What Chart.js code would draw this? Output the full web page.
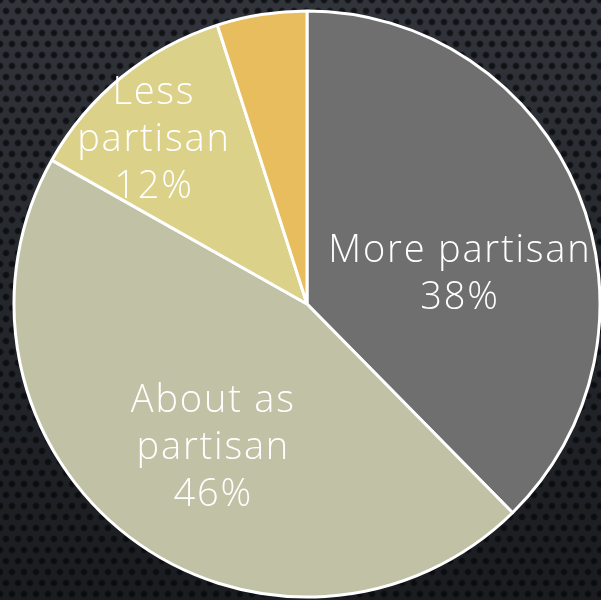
<!DOCTYPE html>
<html>
<head>
<meta charset="utf-8">
<script src="https://cdn.jsdelivr.net/npm/chart.js@4.4.0/dist/chart.umd.min.js"></script>
<style>
  html, body { margin: 0; padding: 0; }
  body {
    width: 601px; height: 600px; overflow: hidden;
    background-color: #24272c;
    background-image:
      radial-gradient(circle at 50% 50%, rgba(6,7,10,0.8) 0, rgba(6,7,10,0.7) 2.4px, rgba(0,0,0,0) 4px),
      radial-gradient(circle at 50% 50%, rgba(6,7,10,0.8) 0, rgba(6,7,10,0.7) 2.4px, rgba(0,0,0,0) 4px),
      linear-gradient(to bottom, #31343a 0%, #25282d 45%, #1a1c20 100%);
    background-size: 12px 22px, 12px 22px, 100% 100%;
    background-position: 0 0, 6px 11px, 0 0;
  }
  #wrap { position: absolute; left: 0; top: 0; width: 601px; height: 600px; }
</style>
</head>
<body>
<div id="wrap"><canvas id="pie" width="601" height="600"></canvas></div>
<script>
// values
const categories = ['More partisan', 'About as partisan', 'Less partisan', ''];
const shares = [38, 46, 12, 5];
const labelLines = [
  ['More partisan', '38%'],
  ['About as', 'partisan', '46%'],
  ['Less', 'partisan', '12%'],
  []
];

const sliceColors = ['#6f6f6f', '#c1c1a6', '#dbd189', '#e7bd5d'];

// where each label sits: shift from the slice's middle angle (deg) and fraction of radius
const labelPlace = [
  { turn: 10.5, r: 0.53 },
  { turn: -3.6, r: 0.58 },
  { turn: -3.5, r: 0.775 },
  { turn: 0, r: 0.5 }
];

const sliceLabels = {
  id: 'sliceLabels',
  afterDatasetsDraw(chart) {
    const ctx = chart.ctx;
    const arcs = chart.getDatasetMeta(0).data;
    const fontSize = 38;
    const spacing = 1.8;
    const lineH = 47;
    const capH = fontSize * 0.71;
    ctx.save();
    ctx.fillStyle = '#ffffff';
    ctx.font = '300 ' + fontSize + 'px "Open Sans", "DejaVu Sans", sans-serif';
    ctx.letterSpacing = spacing + 'px';
    ctx.textAlign = 'center';
    ctx.textBaseline = 'alphabetic';
    arcs.forEach((arc, i) => {
      const lines = labelLines[i];
      if (!lines.length) return;
      const p = arc.getProps(['x', 'y', 'startAngle', 'endAngle', 'outerRadius'], true);
      const a = (p.startAngle + p.endAngle) / 2 + labelPlace[i].turn * Math.PI / 180;
      const cx = p.x + Math.cos(a) * p.outerRadius * labelPlace[i].r;
      const cy = p.y + Math.sin(a) * p.outerRadius * labelPlace[i].r;
      lines.forEach((t, j) => {
        const y = cy + (j - (lines.length - 1) / 2) * lineH + capH / 2;
        // letter spacing leaves a trailing gap, so nudge right by half of it
        ctx.fillText(t, cx + spacing / 2, y);
      });
    });
    ctx.restore();
  }
};

new Chart(document.getElementById('pie'), {
  type: 'pie',
  data: {
    labels: categories,
    datasets: [{
      data: shares,
      backgroundColor: sliceColors,
      borderColor: '#ffffff',
      borderWidth: 3
    }]
  },
  options: {
    responsive: false,
    animation: false,
    devicePixelRatio: 1,
    radius: 293,
    layout: { padding: { left: 14, right: 1, top: 11, bottom: 3 } },
    plugins: {
      legend: { display: false },
      tooltip: { enabled: false }
    }
  },
  plugins: [sliceLabels]
});
</script>
</body>
</html>
